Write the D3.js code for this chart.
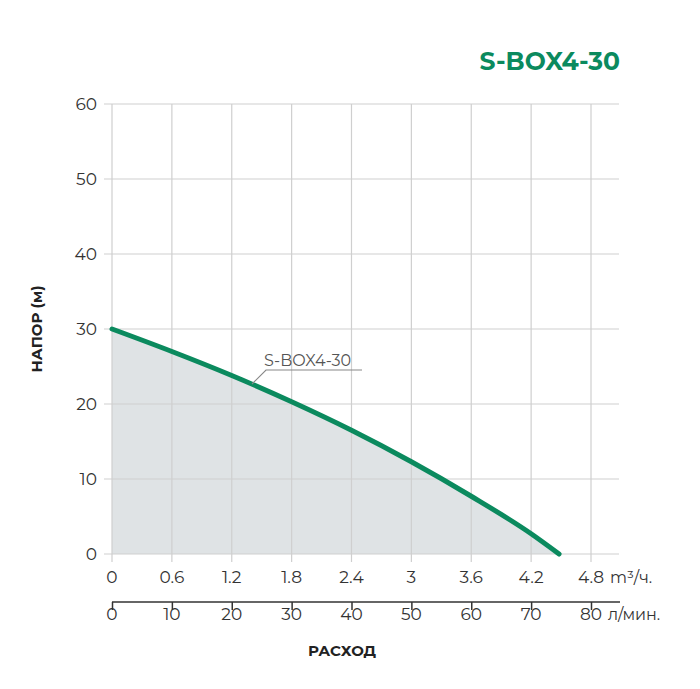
<!DOCTYPE html>
<html><head><meta charset="utf-8">
<script src="https://cdn.jsdelivr.net/npm/d3@7"></script>
<style>body{margin:0;background:#fff}text{font-family:Montserrat,"Noto Sans",sans-serif}</style>
</head><body><svg id="chart" width="700" height="689"></svg>
<script>
// pump curve, flow in m3/h, head in m
const flowTicks = [0, 0.6, 1.2, 1.8, 2.4, 3, 3.6, 4.2, 4.8];
const lpmTicks = [0, 10, 20, 30, 40, 50, 60, 70, 80];
const headTicks = [0, 10, 20, 30, 40, 50, 60];
const curveFlow = [0, 0.6, 1.2, 1.8, 2.4, 3, 3.6, 4.2, 4.48];
const curveHead = [30, 27, 23.8, 20.3, 16.5, 12.3, 7.7, 2.7, 0];

const green = '#0b8a5e';
const svg = d3.select('#chart');
const x = d3.scaleLinear().domain([0, 4.8]).range([112, 591]);
const xl = d3.scaleLinear().domain([0, 80]).range([112, 591]);
const y = d3.scaleLinear().domain([0, 60]).range([554, 104]);
const pts = curveFlow.map((f, i) => [f, curveHead[i]]);

// fill under curve
svg.append('path')
  .attr('d', d3.area().x(d => x(d[0])).y0(y(0)).y1(d => y(d[1])).curve(d3.curveMonotoneX)(pts))
  .attr('fill', '#dfe3e5');

// grid
svg.append('g').selectAll('line').data(headTicks).join('line')
  .attr('x1', 104).attr('x2', 619).attr('y1', d => y(d)).attr('y2', d => y(d))
  .attr('stroke', '#cfcfcf').attr('stroke-width', 1.2);
svg.append('g').selectAll('line').data(flowTicks).join('line')
  .attr('x1', d => x(d)).attr('x2', d => x(d)).attr('y1', 104).attr('y2', 562)
  .attr('stroke', '#cfcfcf').attr('stroke-width', 1.2);

svg.append('g').selectAll('text').data(headTicks).join('text')
  .attr('x', 97).attr('y', d => y(d) + 6).attr('text-anchor', 'end')
  .attr('font-size', 17).attr('fill', '#333').text(d => d);
svg.append('g').selectAll('text').data(flowTicks).join('text')
  .attr('x', d => x(d)).attr('y', 583).attr('text-anchor', 'middle')
  .attr('font-size', 17).attr('fill', '#333').text(d => d);
svg.append('text').attr('x', 610).attr('y', 583).attr('font-size', 16).attr('fill', '#333').text('m³/ч.');

// second axis (l/min)
const ax2 = d3.axisBottom(xl).tickValues(lpmTicks).tickSize(-8).tickFormat('');
const g2 = svg.append('g').attr('transform', 'translate(0,602)').call(ax2);
g2.select('.domain').remove();
g2.selectAll('.tick line').attr('stroke', '#333').attr('stroke-width', 1.5).attr('y1', 0).attr('y2', 8);
svg.append('line').attr('x1', 112).attr('x2', 620).attr('y1', 602).attr('y2', 602)
  .attr('stroke', '#333').attr('stroke-width', 1.5);
svg.append('g').selectAll('text').data(lpmTicks).join('text')
  .attr('x', d => xl(d)).attr('y', 620).attr('text-anchor', 'middle')
  .attr('font-size', 17).attr('fill', '#333').text(d => d);
svg.append('text').attr('x', 608).attr('y', 620).attr('font-size', 16).attr('fill', '#333').text('л/мин.');

// curve
svg.append('path')
  .attr('d', d3.line().x(d => x(d[0])).y(d => y(d[1])).curve(d3.curveMonotoneX)(pts))
  .attr('fill', 'none').attr('stroke', green).attr('stroke-width', 5).attr('stroke-linecap', 'round');

// label with leader
svg.append('path').attr('d', 'M252,384 L266,370 L362,370').attr('fill', 'none').attr('stroke', '#888').attr('stroke-width', 1.2);
svg.append('text').attr('x', 264).attr('y', 366).attr('font-size', 16).attr('fill', '#555').text('S-BOX4-30');

// titles
svg.append('text').attr('x', 620).attr('y', 70).attr('text-anchor', 'end')
  .attr('font-size', 25).attr('font-weight', 700).attr('fill', green).text('S-BOX4-30');
svg.append('text').attr('transform', 'translate(42,329) rotate(-90)').attr('text-anchor', 'middle')
  .attr('font-size', 15).attr('font-weight', 700).attr('fill', '#222').text('НАПОР (м)');
svg.append('text').attr('x', 342).attr('y', 656).attr('text-anchor', 'middle')
  .attr('font-size', 15).attr('font-weight', 700).attr('fill', '#222').text('РАСХОД');
</script></body></html>
